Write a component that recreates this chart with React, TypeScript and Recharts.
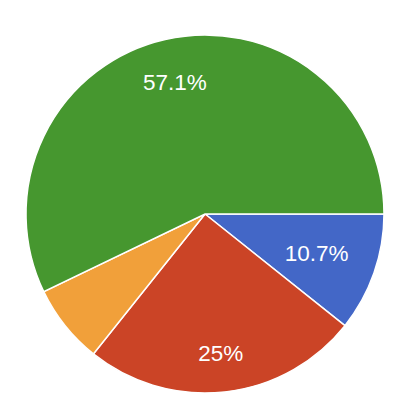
import React from "react";
import { PieChart, Pie, Cell } from "recharts";

const categories = ["Option 1", "Option 2", "Option 3", "Option 4"];
const counts = [3, 7, 2, 16];
const colors = ["#4367c7", "#cb4426", "#f1a03a", "#46972f"];

const data = categories.map((name, i) => ({ name, value: counts[i] }));

const RAD = Math.PI / 180;
const FONT = 22.5;
const charW: Record<string, number> = { ".": 0.278, "%": 0.889 };
const textWidth = (s: string) =>
  s.split("").reduce((w, c) => w + (charW[c] ?? 0.556), 0) * FONT;

const fmt = (p: number) => {
  const v = Math.round(p * 1000) / 10;
  return (Number.isInteger(v) ? v.toFixed(0) : v.toFixed(1)) + "%";
};

const renderLabel = (props: any) => {
  const { cx, cy, midAngle, outerRadius, percent } = props;
  if (percent < 0.08) return null;
  const txt = fmt(percent);
  const dx = Math.cos(-midAngle * RAD);
  const dy = Math.sin(-midAngle * RAD);
  const hw = textWidth(txt) / 2;
  const hh = 9;
  const extent = hw * Math.abs(dx) + hh * Math.abs(dy);
  const r = outerRadius * 0.845 - extent;
  const x = cx + r * dx;
  const y = cy + r * dy;
  return (
    <text
      x={x}
      y={y + FONT * 0.358}
      textAnchor="middle"
      fill="#ffffff"
      fontSize={FONT}
      fontFamily="Arial, 'Liberation Sans', sans-serif"
    >
      {txt}
    </text>
  );
};

export default function App() {
  return (
    <div style={{ position: "absolute", left: 0, top: 0, width: 420, height: 418, background: "#fff" }}>
      <PieChart width={420} height={418} margin={{ top: 0, right: 0, bottom: 0, left: 0 }}>
        <Pie
          data={data}
          dataKey="value"
          nameKey="name"
          cx={205}
          cy={214}
          outerRadius={179}
          startAngle={0}
          endAngle={-360}
          stroke="#ffffff"
          strokeWidth={1.5}
          label={renderLabel}
          labelLine={false}
          isAnimationActive={false}
        >
          {data.map((d, i) => (
            <Cell key={d.name} fill={colors[i]} />
          ))}
        </Pie>
      </PieChart>
    </div>
  );
}
